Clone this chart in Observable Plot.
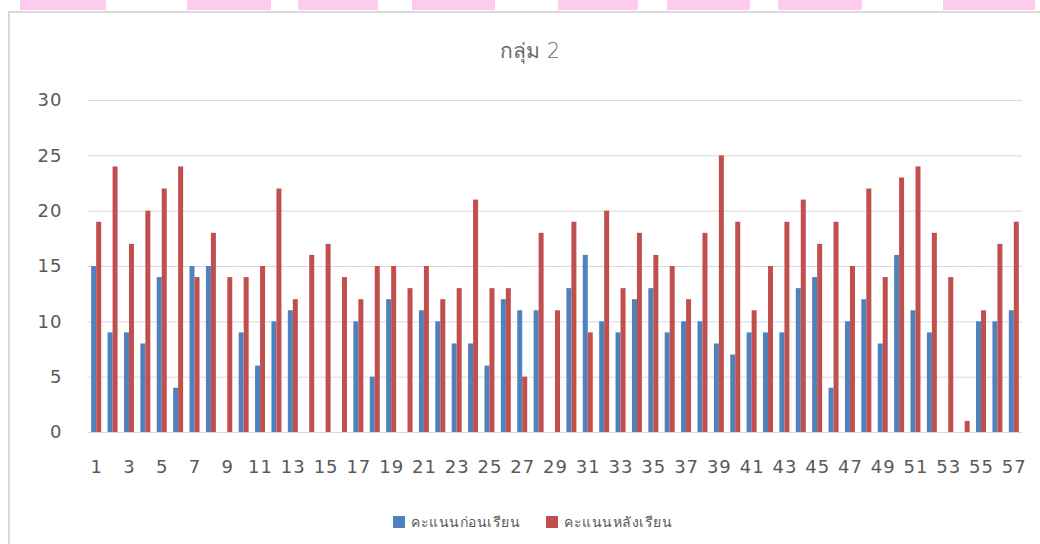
<!DOCTYPE html>
<html>
<head>
<meta charset="utf-8">
<script src="https://cdn.jsdelivr.net/npm/d3@7"></script>
<script src="https://cdn.jsdelivr.net/npm/@observablehq/plot@0.6"></script>
<style>
  html, body { margin: 0; padding: 0; background: #fff; }
  body { width: 1040px; height: 544px; position: relative; overflow: hidden; font-family: "DejaVu Sans", sans-serif; }
  .pink { position: absolute; top: 0; height: 10px; background: #fccbee; }
  #frame { position: absolute; left: 8px; top: 11px; width: 1040px; height: 540px; border-top: 2px solid #d9d9d9; border-left: 2px solid #d9d9d9; }
  #title { position: absolute; left: 0; width: 1060px; top: 34px; text-align: center; font-size: 21px; color: #6a6a6a; font-weight: 300; }
  #chart { position: absolute; left: 0; top: 80px; }
  #chart svg text { letter-spacing: 1px; }
  #legend { position: absolute; top: 511px; left: 393px; font-size: 14px; color: #595959; display: flex; align-items: center; white-space: nowrap; letter-spacing: 0.5px; }
  #legend .sw { display: inline-block; width: 12px; height: 12px; margin-right: 6px; }
</style>
</head>
<body>
<div id="pinks"></div>
<div id="frame"></div>
<div id="title">กลุ่ม 2</div>
<div id="chart"></div>
<div id="legend"></div>
<script>
const categories = d3.range(1, 58);
const seriesNames = ["คะแนนก่อนเรียน", "คะแนนหลังเรียน"];
const seriesColors = ["#4f81bd", "#c0504d"];
const before = [15, 9, 9, 8, 14, 4, 15, 15, 0, 9, 6, 10, 11, 0, 0, 0, 10, 5, 12, 0,
                11, 10, 8, 8, 6, 12, 11, 11, 0, 13, 16, 10, 9, 12, 13, 9, 10, 10, 8, 7,
                9, 9, 9, 13, 14, 4, 10, 12, 8, 16, 11, 9, 0, 0, 10, 10, 11];
const after = [19, 24, 17, 20, 22, 24, 14, 18, 14, 14, 15, 22, 12, 16, 17, 14, 12, 15, 15, 13,
               15, 12, 13, 21, 13, 13, 5, 18, 11, 19, 9, 20, 13, 18, 16, 15, 12, 18, 25, 19,
               11, 15, 19, 21, 17, 19, 15, 22, 14, 23, 24, 18, 14, 1, 11, 17, 19];
const yTicks = [0, 5, 10, 15, 20, 25, 30];

// decorative pink strips at the top of the page
const pinkSpans = [[20, 106], [187, 271], [298, 378], [412, 495], [558, 638], [667, 750], [778, 862], [943, 1035]];
const pinks = document.getElementById("pinks");
for (const [a, b] of pinkSpans) {
  const d = document.createElement("div");
  d.className = "pink";
  d.style.left = a + "px";
  d.style.width = (b - a) + "px";
  pinks.appendChild(d);
}

const rows = [];
categories.forEach((c, i) => {
  rows.push({cat: c, series: seriesNames[0], value: before[i]});
  rows.push({cat: c, series: seriesNames[1], value: after[i]});
});

const chart = Plot.plot({
  width: 1040,
  height: 402,
  marginLeft: 88,
  marginRight: 18,
  marginTop: 20,
  marginBottom: 50,
  style: {fontSize: "18px", fontFamily: "DejaVu Sans, sans-serif", color: "#595959", background: "transparent"},
  facet: {data: rows, x: "cat"},
  fx: {domain: categories, padding: 0, round: false, label: null, tickSize: 0, tickPadding: 28, tickFormat: d => (d % 2 === 1 ? String(d) : "")},
  x: {domain: seriesNames, paddingInner: 0, paddingOuter: 0.64, round: false, axis: null},
  y: {domain: [0, 30], ticks: yTicks, label: null, tickSize: 0, tickPadding: 26},
  color: {domain: seriesNames, range: seriesColors},
  marks: [
    Plot.gridY(yTicks, {stroke: "#d9d9d9", strokeOpacity: 1, strokeWidth: 1}),
    Plot.barY(rows, {x: "series", y: "value", fill: "series", inset: 0})
  ]
});
document.getElementById("chart").appendChild(chart);

const legend = document.getElementById("legend");
seriesNames.forEach((name, i) => {
  const item = document.createElement("span");
  item.style.display = "inline-flex";
  item.style.alignItems = "center";
  item.style.marginRight = i === 0 ? "26px" : "0";
  const sw = document.createElement("span");
  sw.className = "sw";
  sw.style.background = seriesColors[i];
  item.appendChild(sw);
  item.appendChild(document.createTextNode(name));
  legend.appendChild(item);
});
</script>
</body>
</html>
